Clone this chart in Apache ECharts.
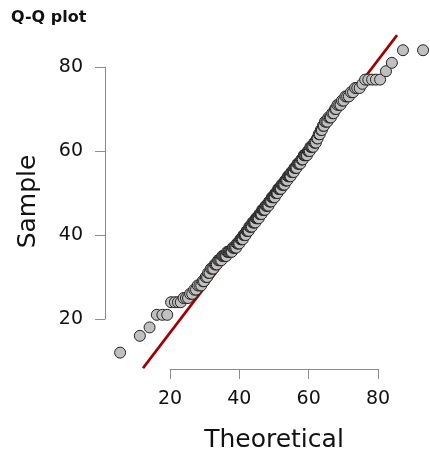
<!DOCTYPE html>
<html>
<head>
<meta charset="utf-8">
<script src="https://cdn.jsdelivr.net/npm/echarts@6/dist/echarts.min.js"></script>
<style>
  html, body { margin: 0; padding: 0; background: #fff; }
  #chart { width: 430px; height: 453px; }
</style>
</head>
<body>
<div id="chart"></div>
<script>
// theoretical quantiles (x) and sorted sample values (y)
const theoretical = [
  5.6, 11.3, 14.1, 16.2, 17.8, 19.2, 20.3, 21.4, 22.3, 23.1,
  23.9, 24.6, 25.2, 25.8, 26.4, 27.0, 27.5, 28.0, 28.5, 29.0,
  29.4, 29.8, 30.3, 30.7, 31.0, 31.4, 31.8, 32.2, 32.5, 32.9,
  33.2, 33.5, 33.9, 34.2, 34.5, 34.8, 35.1, 35.4, 35.7, 36.0,
  36.2, 36.5, 36.8, 37.0, 37.3, 37.6, 37.8, 38.1, 38.3, 38.6,
  38.8, 39.1, 39.3, 39.6, 39.8, 40.0, 40.3, 40.5, 40.7, 41.0,
  41.2, 41.4, 41.6, 41.8, 42.1, 42.3, 42.5, 42.7, 42.9, 43.1,
  43.3, 43.6, 43.8, 44.0, 44.2, 44.4, 44.6, 44.8, 45.0, 45.2,
  45.4, 45.6, 45.8, 46.0, 46.2, 46.4, 46.6, 46.8, 47.0, 47.2,
  47.4, 47.6, 47.8, 48.0, 48.2, 48.4, 48.6, 48.8, 49.0, 49.2,
  49.4, 49.6, 49.8, 50.0, 50.2, 50.4, 50.6, 50.8, 51.0, 51.2,
  51.4, 51.6, 51.8, 52.0, 52.2, 52.4, 52.6, 52.8, 53.0, 53.2,
  53.4, 53.6, 53.8, 54.0, 54.2, 54.4, 54.6, 54.8, 55.0, 55.3,
  55.5, 55.7, 55.9, 56.1, 56.3, 56.5, 56.8, 57.0, 57.2, 57.4,
  57.6, 57.9, 58.1, 58.3, 58.6, 58.8, 59.0, 59.3, 59.5, 59.8,
  60.0, 60.3, 60.5, 60.8, 61.0, 61.3, 61.6, 61.8, 62.1, 62.4,
  62.6, 62.9, 63.2, 63.5, 63.8, 64.1, 64.4, 64.7, 65.1, 65.4,
  65.7, 66.1, 66.4, 66.8, 67.2, 67.6, 67.9, 68.3, 68.8, 69.2,
  69.6, 70.1, 70.6, 71.1, 71.6, 72.2, 72.8, 73.4, 74.0, 74.7,
  75.5, 76.3, 77.2, 78.3, 79.4, 80.6, 82.3, 84.0, 87.2, 93.0
];

const sample = [
  12, 16, 18, 21, 21, 21, 24, 24, 24, 24,
  25, 25, 25, 26, 26, 27, 27, 28, 28, 28,
  29, 29, 30, 30, 31, 31, 32, 32, 32, 33,
  33, 33, 34, 34, 34, 34, 35, 35, 35, 35,
  35, 36, 36, 36, 36, 36, 36, 37, 37, 37,
  37, 37, 38, 38, 38, 38, 39, 39, 39, 39,
  40, 40, 40, 40, 41, 41, 41, 41, 42, 42,
  42, 42, 43, 43, 43, 43, 43, 44, 44, 44,
  44, 44, 45, 45, 45, 45, 46, 46, 46, 46,
  46, 47, 47, 47, 47, 47, 48, 48, 48, 48,
  49, 49, 49, 49, 49, 50, 50, 50, 50, 51,
  51, 51, 51, 51, 52, 52, 52, 52, 52, 53,
  53, 53, 53, 54, 54, 54, 54, 54, 55, 55,
  55, 55, 56, 56, 56, 56, 57, 57, 57, 57,
  57, 58, 58, 58, 59, 59, 59, 59, 59, 60,
  60, 60, 61, 61, 61, 61, 62, 62, 62, 63,
  63, 64, 64, 65, 65, 66, 66, 67, 67, 67,
  68, 68, 68, 69, 69, 70, 70, 71, 71, 71,
  72, 72, 73, 73, 73, 74, 74, 75, 75, 75,
  76, 77, 77, 77, 77, 77, 79, 81, 84, 84
];

// reference line end points (x, y)
const refLineX = [12.2, 85.5];
const refLineY = [8.3, 87.6];

const tickValues = [20, 40, 60, 80];

const points = theoretical.map((x, i) => [x, sample[i]]);
const refLine = refLineX.map((x, i) => [x, refLineY[i]]);

const labelFont = 'DejaVu Sans';

const chart = echarts.init(document.getElementById('chart'), null, { renderer: 'canvas' });

chart.setOption({
  animation: false,
  backgroundColor: '#ffffff',
  title: {
    text: 'Q-Q plot',
    left: 6,
    top: 5,
    textStyle: { fontFamily: labelFont, fontSize: 16, fontWeight: 'bold', color: '#111' },
  },
  grid: [
    // data area
    { left: 105, right: 0, top: 34, bottom: 84, outerBoundsMode: 'none', containLabel: false },
    // axis frame, spans first to last tick
    { left: 170, right: 52, top: 67, bottom: 134, outerBoundsMode: 'none', containLabel: false },
  ],
  xAxis: [
    { gridIndex: 0, type: 'value', min: 1.24, max: 95, show: false },
    {
      gridIndex: 1,
      type: 'value',
      min: tickValues[0],
      max: tickValues[tickValues.length - 1],
      interval: 20,
      offset: 50,
      name: 'Theoretical',
      nameLocation: 'middle',
      nameGap: 59,
      nameTextStyle: { fontFamily: labelFont, fontSize: 25, color: '#111' },
      axisLine: { show: true, lineStyle: { color: '#8c8c8c', width: 1 } },
      axisTick: { show: true, inside: false, length: 10, lineStyle: { color: '#8c8c8c' } },
      axisLabel: { fontFamily: labelFont, fontSize: 19, color: '#111', margin: 21 },
      splitLine: { show: false },
    },
  ],
  yAxis: [
    {
      gridIndex: 0,
      type: 'value',
      min: 8.1,
      max: 87.86,
      // only the title is drawn here, centred on the data area
      name: 'Sample',
      nameLocation: 'middle',
      nameGap: 64,
      nameRotate: 90,
      nameTextStyle: { fontFamily: labelFont, fontSize: 25, color: '#111' },
      axisLine: { show: false },
      axisTick: { show: false },
      axisLabel: { show: false },
      splitLine: { show: false },
    },
    {
      gridIndex: 1,
      type: 'value',
      min: tickValues[0],
      max: tickValues[tickValues.length - 1],
      interval: 20,
      offset: 65,
      axisLine: { show: true, lineStyle: { color: '#8c8c8c', width: 1 } },
      axisTick: { show: true, inside: false, length: 10, lineStyle: { color: '#8c8c8c' } },
      axisLabel: { fontFamily: labelFont, fontSize: 19, color: '#111', margin: 22 },
      splitLine: { show: false },
    },
  ],
  series: [
    {
      type: 'line',
      xAxisIndex: 0,
      yAxisIndex: 0,
      z: 1,
      data: refLine,
      showSymbol: false,
      clip: true,
      lineStyle: { color: '#a00000', width: 2.6 },
      silent: true,
    },
    {
      type: 'scatter',
      xAxisIndex: 0,
      yAxisIndex: 0,
      z: 5,
      data: points,
      symbol: 'circle',
      symbolSize: 11,
      itemStyle: { color: '#c0c0c0', borderColor: '#222', borderWidth: 1, opacity: 1 },
    },
  ],
});
</script>
</body>
</html>
